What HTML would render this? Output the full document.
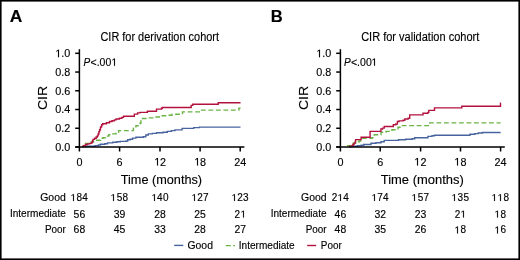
<!DOCTYPE html>
<html><head><meta charset="utf-8"><style>
html,body{margin:0;padding:0;background:#fff;}
svg{display:block;will-change:transform;}
text{font-family:"Liberation Sans",sans-serif;fill:#000;stroke:#000;stroke-width:0.15px;}
.h{fill:transparent;stroke:none;}
</style></head><body>
<svg width="520" height="260" viewBox="0 0 520 260">
<defs><path id="one" d="M515 0L515 1237L197 1010L197 1180L530 1409L696 1409L696 0Z" fill="#000" stroke="#000"/></defs>
<rect x="0.8" y="0.8" width="518.4" height="258.4" fill="none" stroke="#000" stroke-width="1.6"/>
<text x="9.67" y="21.60" font-size="17.01" font-weight="bold" textLength="12.59" lengthAdjust="spacingAndGlyphs">A</text>
<text x="270.79" y="21.80" font-size="17.15" font-weight="bold" textLength="11.96" lengthAdjust="spacingAndGlyphs">B</text>
<text x="100.44" y="40.55" font-size="12.65" textLength="118.54" lengthAdjust="spacingAndGlyphs">CIR for derivation cohort</text>
<text x="361.14" y="40.55" font-size="12.65" textLength="118.14" lengthAdjust="spacingAndGlyphs">CIR for validation cohort</text>
<g transform="translate(47.2 109.3) rotate(-90)"><text x="-0.71" y="0.00" font-size="13.66" textLength="24.16" lengthAdjust="spacingAndGlyphs">CIR</text></g>
<g transform="translate(307.7 109.3) rotate(-90)"><text x="-0.71" y="0.00" font-size="13.66" textLength="24.16" lengthAdjust="spacingAndGlyphs">CIR</text></g>
<text x="83.59" y="65.70" font-size="10.47" font-style="italic" textLength="6.67" lengthAdjust="spacingAndGlyphs">P</text>
<text x="90.48 96.67 99.61 105.50 111.40" y="65.70" font-size="10.47">&lt;.00<tspan class="h">1</tspan></text><use href="#one" transform="translate(111.41 65.70) scale(0.005110 -0.005110)" stroke-width="29"/>
<text x="343.99" y="65.70" font-size="10.47" font-style="italic" textLength="6.67" lengthAdjust="spacingAndGlyphs">P</text>
<text x="350.88 357.07 360.01 365.90 371.80" y="65.70" font-size="10.47">&lt;.00<tspan class="h">1</tspan></text><use href="#one" transform="translate(371.41 65.70) scale(0.005110 -0.005110)" stroke-width="29"/>
<path d="M85.5 147.4H85.5V146.3H95.1V145.6H98.4V145.0H100.5V144.2H104.8V143.7H107.5V142.9H112.8V142.2H116.9V141.7H120.2V141.4H126.0V141.0H127.7V139.7H130.1V139.2H132.6V138.1H135.9V137.2H143.3V136.7H145.8V135.0H148.3V133.9H152.4V133.4H156.5V132.7H163.1V132.2H167.3V131.4H171.4V130.6H175.0V129.9H182.1V128.4H193.7V127.6H199.4V127.1H240.5" fill="none" stroke="#4864a0" stroke-width="1.4"/>
<path d="M83.5 147.4H83.5V145.5H85.5V143.4H91.2V142.0H93.5V140.2H100.5V138.3H103.0V137.7H105.5V136.8H107.5V136.1H108.7V134.8H112.8V133.9H116.1V133.1H118.6V130.6H133.4V128.1H135.9V125.7H140.1V123.2H140.9V119.9H141.7V118.5H148.3V117.9H154.9V117.0H161.5V115.7H166.4V115.2H172.0V114.3H182.5V111.9H200.0V110.1H238.9V108.3H240.5" fill="none" stroke="#6ab344" stroke-width="1.4" stroke-dasharray="4.8 2.7" stroke-dashoffset="2.80"/>
<path d="M82.8 147.4H82.8V146.1H83.8V145.6H85.5V144.5H87.6V143.9H89.8V143.4H90.8V143.1H91.9V142.4H92.4V141.0H93.0V139.4H94.6V138.3H96.2V137.0H97.3V135.9H98.1V134.0H98.9V131.8H99.6V129.7H100.5V127.0H101.6V124.8H102.7V123.8H106.4V122.7H109.5V121.5H112.0V120.7H114.4V119.9H116.1V119.0H119.4V118.2H121.9V117.4H123.5V116.2H134.3V114.1H137.6V112.9H140.0V112.4H147.4V111.2H156.5V109.1H161.5V108.3H162.3V107.5H191.2V105.4H192.8V104.3H218.2V102.8H240.5" fill="none" stroke="#b3123f" stroke-width="1.4"/>
<line x1="79.4" y1="49.2" x2="79.4" y2="147.8" stroke="#000" stroke-width="1.5"/>
<line x1="75.2" y1="147" x2="244.39999999999998" y2="147" stroke="#000" stroke-width="1.5"/>
<line x1="75.2" y1="53.30" x2="79.4" y2="53.30" stroke="#000" stroke-width="1.5"/>
<text x="55.19 61.19 64.19" y="57.15" font-size="10.80"><tspan class="h">1</tspan>.0</text><use href="#one" transform="translate(55.31 57.15) scale(0.005273 -0.005273)" stroke-width="28"/>
<line x1="75.2" y1="72.04" x2="79.4" y2="72.04" stroke="#000" stroke-width="1.5"/>
<text x="55.19" y="75.89" font-size="10.80">0.8</text>
<line x1="75.2" y1="90.78" x2="79.4" y2="90.78" stroke="#000" stroke-width="1.5"/>
<text x="55.19" y="94.63" font-size="10.80">0.6</text>
<line x1="75.2" y1="109.52" x2="79.4" y2="109.52" stroke="#000" stroke-width="1.5"/>
<text x="55.19" y="113.37" font-size="10.80">0.4</text>
<line x1="75.2" y1="128.26" x2="79.4" y2="128.26" stroke="#000" stroke-width="1.5"/>
<text x="55.19" y="132.11" font-size="10.80">0.2</text>
<line x1="75.2" y1="147.00" x2="79.4" y2="147.00" stroke="#000" stroke-width="1.5"/>
<text x="55.19" y="150.85" font-size="10.80">0.0</text>
<line x1="79.4" y1="147" x2="79.4" y2="151.5" stroke="#000" stroke-width="1.5"/>
<text x="76.40" y="165.50" font-size="10.80">0</text>
<line x1="119.6" y1="147" x2="119.6" y2="151.5" stroke="#000" stroke-width="1.5"/>
<text x="116.60" y="165.50" font-size="10.80">6</text>
<line x1="160.0" y1="147" x2="160.0" y2="151.5" stroke="#000" stroke-width="1.5"/>
<text x="153.99 160.00" y="165.50" font-size="10.80"><tspan class="h">1</tspan>2</text><use href="#one" transform="translate(154.31 165.50) scale(0.005273 -0.005273)" stroke-width="28"/>
<line x1="200.1" y1="147" x2="200.1" y2="151.5" stroke="#000" stroke-width="1.5"/>
<text x="194.09 200.10" y="165.50" font-size="10.80"><tspan class="h">1</tspan>8</text><use href="#one" transform="translate(194.31 165.50) scale(0.005273 -0.005273)" stroke-width="28"/>
<line x1="240.2" y1="147" x2="240.2" y2="151.5" stroke="#000" stroke-width="1.5"/>
<text x="234.19" y="165.50" font-size="10.80">24</text>
<text x="120.72" y="183.90" font-size="13.66" textLength="81.37" lengthAdjust="spacingAndGlyphs">Time (months)</text>
<path d="M350.9 147.4H350.9V146.3H357.4V145.8H361.1V145.3H363.8V144.5H371.0V143.3H375.9V142.7H380.9V141.7H384.2V140.4H398.5V139.7H405.6V139.3H412.2V138.8H414.7V137.7H427.9V136.4H432.0V135.8H434.5V135.2H470.0V134.2H474.9V133.6H478.2V133.0H482.4V132.5H500.6" fill="none" stroke="#4864a0" stroke-width="1.4"/>
<path d="M347.7 147.4H347.7V145.6H352.0V143.9H353.1V143.1H358.4V142.0H359.0V141.0H360.6V139.9H362.7V138.3H371.8V137.7H374.3V134.8H381.0V132.3H386.0V131.4H392.0V129.8H398.0V127.3H401.0V125.6H429.8V122.9H500.6" fill="none" stroke="#6ab344" stroke-width="1.4" stroke-dasharray="4.8 2.7" stroke-dashoffset="6.70"/>
<path d="M349.8 147.4H349.8V146.1H352.5V145.2H353.1V144.5H354.1V143.1H355.2V141.5H355.6V139.6H361.1V137.2H370.1V131.4H380.9V129.0H382.5V128.1H384.2V126.5H393.3V124.8H395.8V124.0H397.4V121.5H399.1V120.9H403.1V120.3H404.8V119.0H408.1V118.2H409.7V114.9H423.0V113.2H427.9V112.4H428.8V110.4H434.5V107.9H461.8V106.2H500.5V102.9H500.6" fill="none" stroke="#b3123f" stroke-width="1.4"/>
<line x1="340.4" y1="49.2" x2="340.4" y2="147.8" stroke="#000" stroke-width="1.5"/>
<line x1="336.2" y1="147" x2="504.8" y2="147" stroke="#000" stroke-width="1.5"/>
<line x1="336.2" y1="53.30" x2="340.4" y2="53.30" stroke="#000" stroke-width="1.5"/>
<text x="316.19 322.19 325.19" y="57.15" font-size="10.80"><tspan class="h">1</tspan>.0</text><use href="#one" transform="translate(316.31 57.15) scale(0.005273 -0.005273)" stroke-width="28"/>
<line x1="336.2" y1="72.04" x2="340.4" y2="72.04" stroke="#000" stroke-width="1.5"/>
<text x="316.19" y="75.89" font-size="10.80">0.8</text>
<line x1="336.2" y1="90.78" x2="340.4" y2="90.78" stroke="#000" stroke-width="1.5"/>
<text x="316.19" y="94.63" font-size="10.80">0.6</text>
<line x1="336.2" y1="109.52" x2="340.4" y2="109.52" stroke="#000" stroke-width="1.5"/>
<text x="316.19" y="113.37" font-size="10.80">0.4</text>
<line x1="336.2" y1="128.26" x2="340.4" y2="128.26" stroke="#000" stroke-width="1.5"/>
<text x="316.19" y="132.11" font-size="10.80">0.2</text>
<line x1="336.2" y1="147.00" x2="340.4" y2="147.00" stroke="#000" stroke-width="1.5"/>
<text x="316.19" y="150.85" font-size="10.80">0.0</text>
<line x1="340.4" y1="147" x2="340.4" y2="151.5" stroke="#000" stroke-width="1.5"/>
<text x="337.40" y="165.50" font-size="10.80">0</text>
<line x1="380.2" y1="147" x2="380.2" y2="151.5" stroke="#000" stroke-width="1.5"/>
<text x="377.20" y="165.50" font-size="10.80">6</text>
<line x1="420.6" y1="147" x2="420.6" y2="151.5" stroke="#000" stroke-width="1.5"/>
<text x="414.59 420.60" y="165.50" font-size="10.80"><tspan class="h">1</tspan>2</text><use href="#one" transform="translate(414.31 165.50) scale(0.005273 -0.005273)" stroke-width="28"/>
<line x1="460.5" y1="147" x2="460.5" y2="151.5" stroke="#000" stroke-width="1.5"/>
<text x="454.49 460.50" y="165.50" font-size="10.80"><tspan class="h">1</tspan>8</text><use href="#one" transform="translate(454.31 165.50) scale(0.005273 -0.005273)" stroke-width="28"/>
<line x1="500.6" y1="147" x2="500.6" y2="151.5" stroke="#000" stroke-width="1.5"/>
<text x="494.59" y="165.50" font-size="10.80">24</text>
<text x="380.71" y="183.90" font-size="13.66" textLength="83.09" lengthAdjust="spacingAndGlyphs">Time (months)</text>
<text x="40.20" y="200.80" font-size="10.40" textLength="25.60" lengthAdjust="spacingAndGlyphs">Good</text>
<text x="301.00" y="200.80" font-size="10.40" textLength="25.60" lengthAdjust="spacingAndGlyphs">Good</text>
<text x="70.72 76.51 82.29" y="201.05" font-size="10.00"><tspan class="h">1</tspan>84</text><use href="#one" transform="translate(70.54 201.05) scale(0.004883 -0.004883)" stroke-width="31"/>
<text x="110.92 116.71 122.49" y="201.05" font-size="10.00"><tspan class="h">1</tspan>58</text><use href="#one" transform="translate(110.54 201.05) scale(0.004883 -0.004883)" stroke-width="31"/>
<text x="151.32 157.11 162.89" y="201.05" font-size="10.00"><tspan class="h">1</tspan>40</text><use href="#one" transform="translate(151.54 201.05) scale(0.004883 -0.004883)" stroke-width="31"/>
<text x="191.42 197.21 202.99" y="201.05" font-size="10.00"><tspan class="h">1</tspan>27</text><use href="#one" transform="translate(191.54 201.05) scale(0.004883 -0.004883)" stroke-width="31"/>
<text x="231.52 237.31 243.09" y="201.05" font-size="10.00"><tspan class="h">1</tspan>23</text><use href="#one" transform="translate(231.54 201.05) scale(0.004883 -0.004883)" stroke-width="31"/>
<text x="331.72 337.51 343.29" y="201.05" font-size="10.00">2<tspan class="h">1</tspan>4</text><use href="#one" transform="translate(337.54 201.05) scale(0.004883 -0.004883)" stroke-width="31"/>
<text x="371.52 377.31 383.09" y="201.05" font-size="10.00"><tspan class="h">1</tspan>74</text><use href="#one" transform="translate(371.54 201.05) scale(0.004883 -0.004883)" stroke-width="31"/>
<text x="411.92 417.71 423.49" y="201.05" font-size="10.00"><tspan class="h">1</tspan>57</text><use href="#one" transform="translate(411.54 201.05) scale(0.004883 -0.004883)" stroke-width="31"/>
<text x="451.82 457.61 463.39" y="201.05" font-size="10.00"><tspan class="h">1</tspan>35</text><use href="#one" transform="translate(451.54 201.05) scale(0.004883 -0.004883)" stroke-width="31"/>
<text x="491.92 497.71 503.49" y="201.05" font-size="10.00"><tspan class="h">1</tspan><tspan class="h">1</tspan>8</text><use href="#one" transform="translate(491.54 201.05) scale(0.004883 -0.004883)" stroke-width="31"/><use href="#one" transform="translate(497.54 201.05) scale(0.004883 -0.004883)" stroke-width="31"/>
<text x="9.90" y="217.30" font-size="10.40" textLength="55.90" lengthAdjust="spacingAndGlyphs">Intermediate</text>
<text x="270.70" y="217.30" font-size="10.40" textLength="55.90" lengthAdjust="spacingAndGlyphs">Intermediate</text>
<text x="73.62" y="217.55" font-size="10.00" textLength="11.57" lengthAdjust="spacingAndGlyphs">56</text>
<text x="113.82" y="217.55" font-size="10.00" textLength="11.57" lengthAdjust="spacingAndGlyphs">39</text>
<text x="154.22" y="217.55" font-size="10.00" textLength="11.57" lengthAdjust="spacingAndGlyphs">28</text>
<text x="194.32" y="217.55" font-size="10.00" textLength="11.57" lengthAdjust="spacingAndGlyphs">25</text>
<text x="234.42 240.20" y="217.55" font-size="10.00">2<tspan class="h">1</tspan></text><use href="#one" transform="translate(240.54 217.55) scale(0.004883 -0.004883)" stroke-width="31"/>
<text x="334.62" y="217.55" font-size="10.00" textLength="11.57" lengthAdjust="spacingAndGlyphs">46</text>
<text x="374.42" y="217.55" font-size="10.00" textLength="11.57" lengthAdjust="spacingAndGlyphs">32</text>
<text x="414.82" y="217.55" font-size="10.00" textLength="11.57" lengthAdjust="spacingAndGlyphs">23</text>
<text x="454.72 460.50" y="217.55" font-size="10.00">2<tspan class="h">1</tspan></text><use href="#one" transform="translate(460.54 217.55) scale(0.004883 -0.004883)" stroke-width="31"/>
<text x="494.82 500.60" y="217.55" font-size="10.00"><tspan class="h">1</tspan>8</text><use href="#one" transform="translate(494.54 217.55) scale(0.004883 -0.004883)" stroke-width="31"/>
<text x="44.90" y="233.20" font-size="10.40" textLength="20.90" lengthAdjust="spacingAndGlyphs">Poor</text>
<text x="305.70" y="233.20" font-size="10.40" textLength="20.90" lengthAdjust="spacingAndGlyphs">Poor</text>
<text x="73.62" y="233.45" font-size="10.00" textLength="11.57" lengthAdjust="spacingAndGlyphs">68</text>
<text x="113.82" y="233.45" font-size="10.00" textLength="11.57" lengthAdjust="spacingAndGlyphs">45</text>
<text x="154.22" y="233.45" font-size="10.00" textLength="11.57" lengthAdjust="spacingAndGlyphs">33</text>
<text x="194.32" y="233.45" font-size="10.00" textLength="11.57" lengthAdjust="spacingAndGlyphs">28</text>
<text x="234.42" y="233.45" font-size="10.00" textLength="11.57" lengthAdjust="spacingAndGlyphs">27</text>
<text x="334.62" y="233.45" font-size="10.00" textLength="11.57" lengthAdjust="spacingAndGlyphs">48</text>
<text x="374.42" y="233.45" font-size="10.00" textLength="11.57" lengthAdjust="spacingAndGlyphs">35</text>
<text x="414.82" y="233.45" font-size="10.00" textLength="11.57" lengthAdjust="spacingAndGlyphs">26</text>
<text x="454.72 460.50" y="233.45" font-size="10.00"><tspan class="h">1</tspan>8</text><use href="#one" transform="translate(454.54 233.45) scale(0.004883 -0.004883)" stroke-width="31"/>
<text x="494.82 500.60" y="233.45" font-size="10.00"><tspan class="h">1</tspan>6</text><use href="#one" transform="translate(494.54 233.45) scale(0.004883 -0.004883)" stroke-width="31"/>
<line x1="174.2" y1="245.4" x2="183.3" y2="245.4" stroke="#4864a0" stroke-width="1.4"/>
<text x="187.50" y="248.50" font-size="10.40">Good</text>
<line x1="225.8" y1="245.6" x2="235" y2="245.6" stroke="#6ab344" stroke-width="1.4" stroke-dasharray="5 2.4 1.8 9"/>
<text x="238.80" y="248.50" font-size="10.40" textLength="55.90" lengthAdjust="spacingAndGlyphs">Intermediate</text>
<line x1="307.2" y1="245.5" x2="316.2" y2="245.5" stroke="#b3123f" stroke-width="1.4"/>
<text x="320.80" y="248.50" font-size="10.40" textLength="20.90" lengthAdjust="spacingAndGlyphs">Poor</text>
</svg>
</body></html>
